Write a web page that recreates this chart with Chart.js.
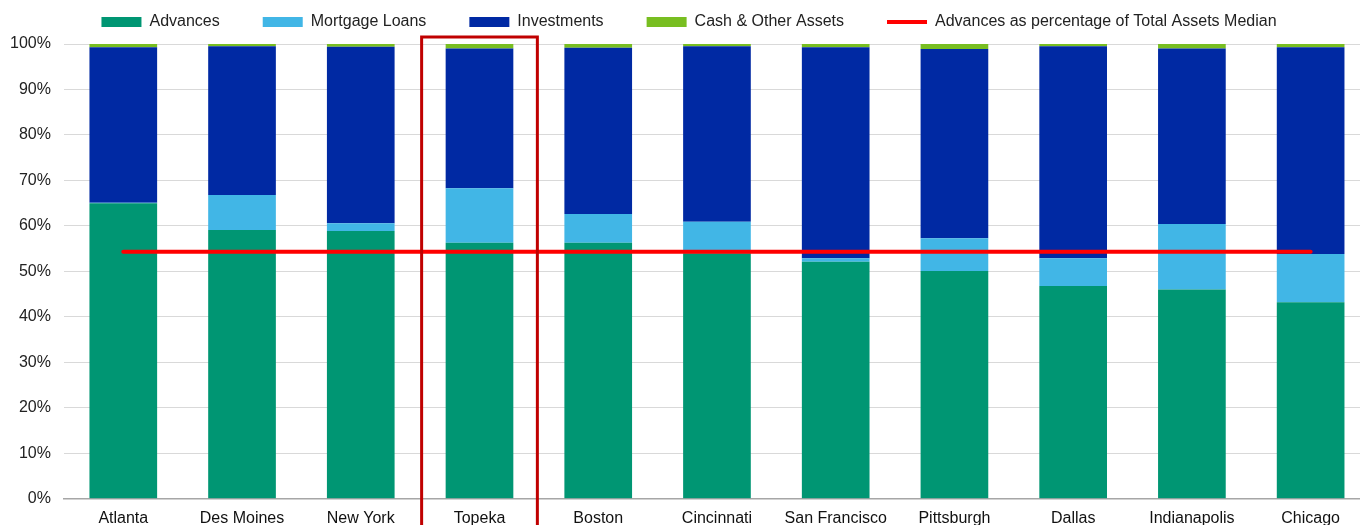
<!DOCTYPE html>
<html>
<head>
<meta charset="utf-8">
<script src="https://cdn.jsdelivr.net/npm/chart.js@4/dist/chart.umd.min.js"></script>
<style>
  html, body { margin: 0; padding: 0; background: #fff; overflow: hidden; }
  #wrap { width: 1370px; height: 525px; }
</style>
</head>
<body>
<div id="wrap"><canvas id="chart" width="1370" height="525"></canvas></div>
<script>
// Bank names along the x axis
const banks = ["Atlanta", "Des Moines", "New York", "Topeka", "Boston", "Cincinnati",
  "San Francisco", "Pittsburgh", "Dallas", "Indianapolis", "Chicago"];

// Share of total assets, percent
const advances    = [65.0, 59.1, 58.9, 56.3, 56.3, 54.0, 52.1, 50.1, 46.8, 46.0, 43.2];
const mortgage    = [0.1, 7.7, 1.7, 12.0, 6.3, 6.9, 0.8, 7.2, 6.1, 14.4, 10.6];
const investments = [34.2, 32.7, 38.8, 30.7, 36.6, 38.6, 46.4, 41.6, 46.6, 38.6, 45.5];
const cashOther   = [0.7, 0.5, 0.6, 1.0, 0.8, 0.5, 0.7, 1.1, 0.5, 1.0, 0.7];
const advancesMedian = 54.3;
const highlightBank = "Topeka";

const yTicks = [0, 10, 20, 30, 40, 50, 60, 70, 80, 90, 100];

const medianLine = banks.map(() => advancesMedian);

// red frame around the highlighted bank
const highlightBox = {
  id: 'highlightBox',
  afterDatasetsDraw(chart) {
    const x = chart.scales.x, y = chart.scales.y;
    const i = banks.indexOf(highlightBank);
    const step = x.getPixelForValue(1) - x.getPixelForValue(0);
    const cx = x.getPixelForValue(i);
    const top = y.getPixelForValue(100) - 7;
    const c = chart.ctx;
    c.save();
    c.strokeStyle = '#C00000';
    c.lineWidth = 3;
    c.strokeRect(cx - step / 2 + 1.5, top, step - 3, chart.height - top + 10);
    c.restore();
  }
};

// a bit more room under the legend, and nudge it right
const legendSpace = {
  id: 'legendSpace',
  beforeInit(chart) {
    if (!chart.legend) return;
    const fit = chart.legend.fit;
    chart.legend.fit = function () {
      fit.call(this);
      this.height += 4;
    };
  },
  afterLayout(chart) {
    if (chart.legend) chart.legend.left += 11;
  }
};

Chart.defaults.font.family = "'Liberation Sans', Arial, sans-serif";
Chart.defaults.font.size = 16;
Chart.defaults.color = '#222';

new Chart(document.getElementById('chart'), {
  data: {
    labels: banks,
    datasets: [
      { type: 'line', label: 'Advances as percentage of Total Assets Median', data: medianLine,
        borderColor: '#FF0000', backgroundColor: '#FF0000', borderWidth: 4, pointRadius: 0,
        borderCapStyle: 'round', stack: 'median', order: 0 },
      { type: 'bar', label: 'Advances', data: advances, backgroundColor: '#009673', order: 1 },
      { type: 'bar', label: 'Mortgage Loans', data: mortgage, backgroundColor: '#41B6E6', order: 1 },
      { type: 'bar', label: 'Investments', data: investments, backgroundColor: '#0029A3', order: 1 },
      { type: 'bar', label: 'Cash & Other Assets', data: cashOther, backgroundColor: '#78BE21', order: 1 }
    ]
  },
  options: {
    responsive: false,
    animation: false,
    layout: { padding: { top: -29, left: -3, right: 0, bottom: -6 } },
    datasets: { bar: { categoryPercentage: 1, barPercentage: 0.57, borderWidth: 0 } },
    plugins: {
      tooltip: { enabled: false },
      legend: {
        position: 'top',
        labels: {
          usePointStyle: true,
          pointStyleWidth: 40,
          boxHeight: 10,
          padding: 43,
          color: '#222',
          generateLabels(chart) {
            const items = Chart.defaults.plugins.legend.labels.generateLabels(chart);
            items.forEach(it => {
              const ds = chart.data.datasets[it.datasetIndex];
              if (ds.type === 'line') {
                it.pointStyle = 'line';
                it.strokeStyle = '#FF0000';
                it.lineWidth = 4;
              } else {
                it.pointStyle = 'rect';
                it.lineWidth = 0;
              }
            });
            // bars first, median line last
            return items.sort((a, b) => (a.pointStyle === 'line') - (b.pointStyle === 'line') || a.datasetIndex - b.datasetIndex);
          }
        }
      }
    },
    scales: {
      x: {
        stacked: true,
        grid: { display: false },
        border: { display: true, color: '#A6A6A6', width: 1.5 },
        ticks: { autoSkip: false, maxRotation: 0, padding: 2.5, color: '#111' }
      },
      y: {
        stacked: true,
        min: 0,
        max: 100,
        afterBuildTicks(scale) { scale.ticks = yTicks.map(v => ({ value: v })); },
        grid: {
          drawTicks: false,
          color: ctx => ctx.tick && ctx.tick.value === 0 ? 'rgba(0,0,0,0)' : '#D9D9D9'
        },
        border: { display: false },
        ticks: { padding: 13, color: '#222', callback: v => v + '%' }
      }
    }
  },
  plugins: [highlightBox, legendSpace]
});
</script>
</body>
</html>
